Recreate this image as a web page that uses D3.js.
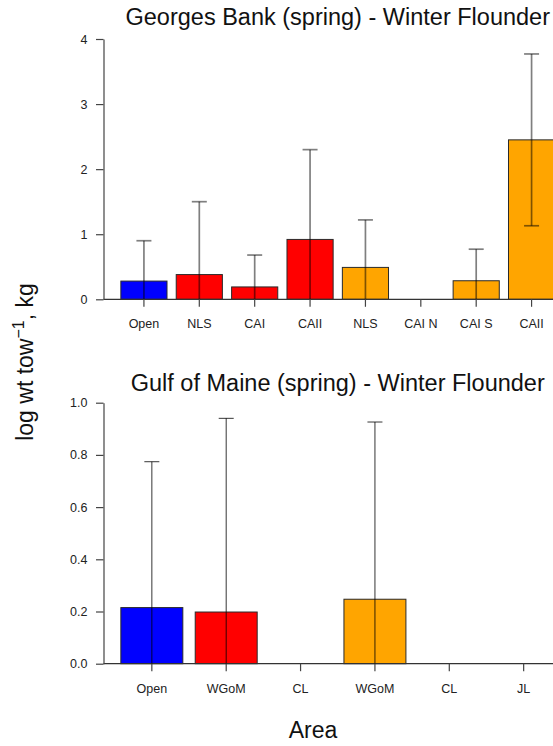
<!DOCTYPE html>
<html>
<head>
<meta charset="utf-8">
<script src="https://cdn.jsdelivr.net/npm/d3@7"></script>
<style>
  html, body { margin: 0; padding: 0; background: #fff; }
  svg { display: block; }
  text { font-family: "Liberation Sans", Arial, Helvetica, sans-serif; }
</style>
</head>
<body>
<svg id="chart" width="553" height="746"></svg>
<script>
// Georges Bank (spring) — mean log weight per tow by area
const gbAreas  = ["Open", "NLS", "CAI", "CAII", "NLS", "CAI N", "CAI S", "CAII"];
const gbGroups = ["open", "closed", "closed", "closed", "sector", "sector", "sector", "sector"];
const gbMeans  = [0.28, 0.38, 0.19, 0.92, 0.49, 0.00, 0.285, 2.45];
const gbUpper  = [0.90, 1.50, 0.68, 2.30, 1.22, null, 0.77, 3.77];
const gbLower  = [null, null, null, null, null, null, null, 1.13];   // null: below zero
const gbTicks  = [0, 1, 2, 3, 4];

// Gulf of Maine (spring)
const gomAreas  = ["Open", "WGoM", "CL", "WGoM", "CL", "JL"];
const gomGroups = ["open", "closed", "closed", "sector", "sector", "sector"];
const gomMeans  = [0.215, 0.198, 0.00, 0.247, 0.00, 0.00];
const gomUpper  = [0.774, 0.940, null, 0.926, null, null];
const gomLower  = [null, null, null, null, null, null];
const gomTicks  = [0.0, 0.2, 0.4, 0.6, 0.8, 1.0];

const groupColor = { open: "#0000FF", closed: "#FF0000", sector: "#FFA500" };

const svg = d3.select("#chart");
const plotLeft = 103.5, plotRight = 572;

function panel(cfg) {
  const n = cfg.areas.length;
  // barplot layout: bars of width 1 separated by 0.2, x range padded 4%
  const wl = 0.2, wr = 1.2 * n;
  const pad = 0.04 * (wr - wl);
  const u = d3.scaleLinear().domain([wl - pad, wr + pad]).range([plotLeft, plotRight]);
  const x = d3.scaleBand()
    .domain(d3.range(n))
    .range([u(0.2), u(1.2 * n)])
    .paddingInner(0.2 / 1.2)
    .paddingOuter(0);
  const y = d3.scaleLinear().domain(cfg.yDomain).range([cfg.y0, cfg.yTop]);

  const g = svg.append("g");

  // title
  g.append("text")
    .attr("x", (plotLeft + plotRight) / 2)
    .attr("y", cfg.titleY)
    .attr("text-anchor", "middle")
    .attr("font-size", 23.5)
    .attr("fill", "#111")
    .text(cfg.title);

  // bars
  g.selectAll("rect.bar")
    .data(cfg.means)
    .join("rect")
    .attr("class", "bar")
    .attr("x", (d, i) => x(i))
    .attr("width", x.bandwidth())
    .attr("y", d => y(d))
    .attr("height", d => y(0) - y(d))
    .attr("fill", (d, i) => groupColor[cfg.groups[i]])
    .attr("stroke", "#2a2a2a")
    .attr("stroke-width", 1);

  // baseline across the plot region
  g.append("line")
    .attr("x1", plotLeft).attr("x2", plotRight)
    .attr("y1", y(0)).attr("y2", y(0))
    .attr("stroke", "#333").attr("stroke-width", 1.2);

  // error bars (clipped at zero)
  const capHalf = 7.5;
  const eb = g.append("g")
    .attr("stroke", cfg.errColor)
    .attr("stroke-width", cfg.errWidth)
    .attr("fill", "none");
  cfg.upper.forEach((up, i) => {
    if (up == null) return;
    const cx = x(i) + x.bandwidth() / 2;
    const lo = cfg.lower[i];
    const yLo = lo == null ? y(0) : y(lo);
    eb.append("line").attr("x1", cx).attr("x2", cx).attr("y1", yLo).attr("y2", y(up));
    eb.append("line").attr("x1", cx - capHalf).attr("x2", cx + capHalf).attr("y1", y(up)).attr("y2", y(up));
    if (lo != null) {
      eb.append("line").attr("x1", cx - capHalf).attr("x2", cx + capHalf).attr("y1", yLo).attr("y2", yLo);
    }
  });

  // y axis
  const ya = g.append("g")
    .attr("transform", `translate(${plotLeft},0)`)
    .call(d3.axisLeft(y).tickValues(cfg.ticks).tickFormat(cfg.tickFmt)
      .tickSize(7.5).tickSizeOuter(0).tickPadding(8.5));
  ya.select(".domain").attr("stroke", "#444").attr("stroke-width", 1.2);
  ya.selectAll(".tick line").attr("stroke", "#444").attr("stroke-width", 1.2);
  ya.selectAll(".tick text")
    .attr("font-size", 12.5).attr("fill", "#222")
    .style("font-family", '"Liberation Sans", Arial, sans-serif');

  // x axis: ticks at bar centres
  const xa = g.append("g")
    .attr("transform", `translate(0,${y(0)})`)
    .call(d3.axisBottom(x).tickFormat(i => cfg.areas[i]).tickSize(7.5).tickSizeOuter(0));
  xa.select(".domain").remove();
  xa.selectAll(".tick line").attr("stroke", "#444").attr("stroke-width", 1.2);
  xa.selectAll(".tick text")
    .attr("y", 29).attr("dy", 0)
    .attr("font-size", 12.5).attr("fill", "#222")
    .style("font-family", '"Liberation Sans", Arial, sans-serif');
}

panel({
  title: "Georges Bank (spring) - Winter Flounder",
  titleY: 25,
  areas: gbAreas, groups: gbGroups, means: gbMeans, upper: gbUpper, lower: gbLower,
  yDomain: [0, 4], y0: 299.3, yTop: 39.0,
  ticks: gbTicks, tickFmt: d3.format("d"),
  errColor: "rgba(0,0,0,0.5)", errWidth: 1.7
});

panel({
  title: "Gulf of Maine (spring) - Winter Flounder",
  titleY: 391,
  areas: gomAreas, groups: gomGroups, means: gomMeans, upper: gomUpper, lower: gomLower,
  yDomain: [0, 1], y0: 663.7, yTop: 402.7,
  ticks: gomTicks, tickFmt: d3.format(".1f"),
  errColor: "rgba(0,0,0,0.72)", errWidth: 1.1
});

// shared axis titles
const yTitle = svg.append("text")
  .attr("transform", "translate(33,362) rotate(-90)")
  .attr("text-anchor", "middle")
  .attr("font-size", 23)
  .attr("fill", "#111");
yTitle.append("tspan").text("log wt tow");
yTitle.append("tspan").attr("font-size", 16).attr("dy", -9).text("\u22121");
yTitle.append("tspan").attr("dy", 9).text(", kg");

svg.append("text")
  .attr("x", 313)
  .attr("y", 738)
  .attr("text-anchor", "middle")
  .attr("font-size", 23)
  .attr("fill", "#111")
  .text("Area");
</script>
</body>
</html>
